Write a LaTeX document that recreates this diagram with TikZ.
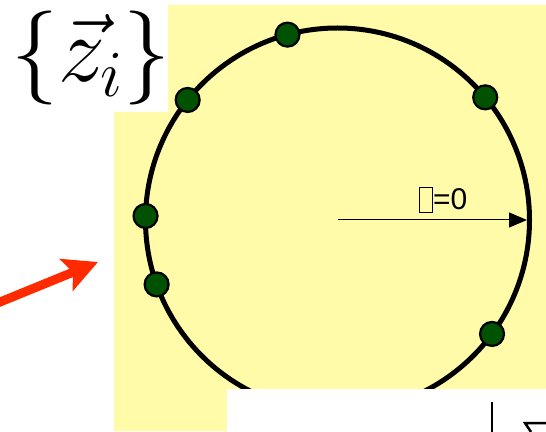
\documentclass[tikz,border=0pt]{standalone}
\usepackage{fix-cm}
\usepackage{fontspec}
\newfontfamily\arialf{Liberation Sans}
\usetikzlibrary{arrows.meta,calc}
\definecolor{bgyellow}{HTML}{FFFBA8}
\definecolor{dotgreen}{HTML}{005200}
\definecolor{arrowred}{HTML}{FF2A00}
\begin{document}
\begin{tikzpicture}[x=1pt,y=1pt,
  dot/.style={circle, draw=black, line width=2.2pt, fill=dotgreen, minimum size=24pt, inner sep=0pt},
  ring/.style={line width=5pt},
  radiusarrow/.style={line width=1pt, -{Triangle[length=18pt,width=15pt]}},
  redarrow/.style={draw=arrowred, line width=9pt, -{Stealth[length=34pt,width=34pt,inset=7pt]}}]
\useasboundingbox (0,0) rectangle (546,431);
% yellow background
\fill[bgyellow] (168,426) -- (546,426) -- (546,42) -- (227,42) -- (227,0) -- (114,0) -- (114,319) -- (168,319) -- cycle;
% circle
\coordinate (c) at (337.5,211);
\draw[ring] (c) circle (192);
% radius arrow
\coordinate (e) at ($(c)+(0:189.5)$);
\draw[radiusarrow] (c) -- (e);
% label
\node[draw, line width=1.3pt, minimum width=13pt, minimum height=25pt, inner sep=0pt, anchor=south west] (box) at (419,218) {};
\node[anchor=base west, inner sep=0pt, font=\arialf\fontsize{30}{30}\selectfont] (eq) at (433,221) {=0};
% dots
\node[dot] (d1) at ($(c)+(105.1:192)$) {};
\node[dot] (d2) at ($(c)+(141.3:192)$) {};
\node[dot] (d3) at ($(c)+(39.7:192)$) {};
\node[dot] (d4) at ($(c)+(178.8:192)$) {};
\node[dot] (d5) at ($(c)+(199.6:192)$) {};
\node[dot] (d6) at ($(c)+(323.6:192)$) {};
% z_i label
\node[anchor=base west, inner sep=0pt, font=\fontsize{94}{94}\selectfont] (zlabel) at (11,349) {$\{\vec{z}_i\}$};
% red arrow
\coordinate (rtail) at (-10,124.9);
\coordinate (rtip) at (98,169);
\draw[redarrow] (rtail) -- (rtip);
% bottom white panel with cut formula fragment
\fill[white] (227,0) rectangle (546,42);
\draw[line width=2pt] (492,29) -- (492,-1);
\draw[line width=2.5pt] (547,8) -- (525,8) -- (531,-1);
\end{tikzpicture}
\end{document}
